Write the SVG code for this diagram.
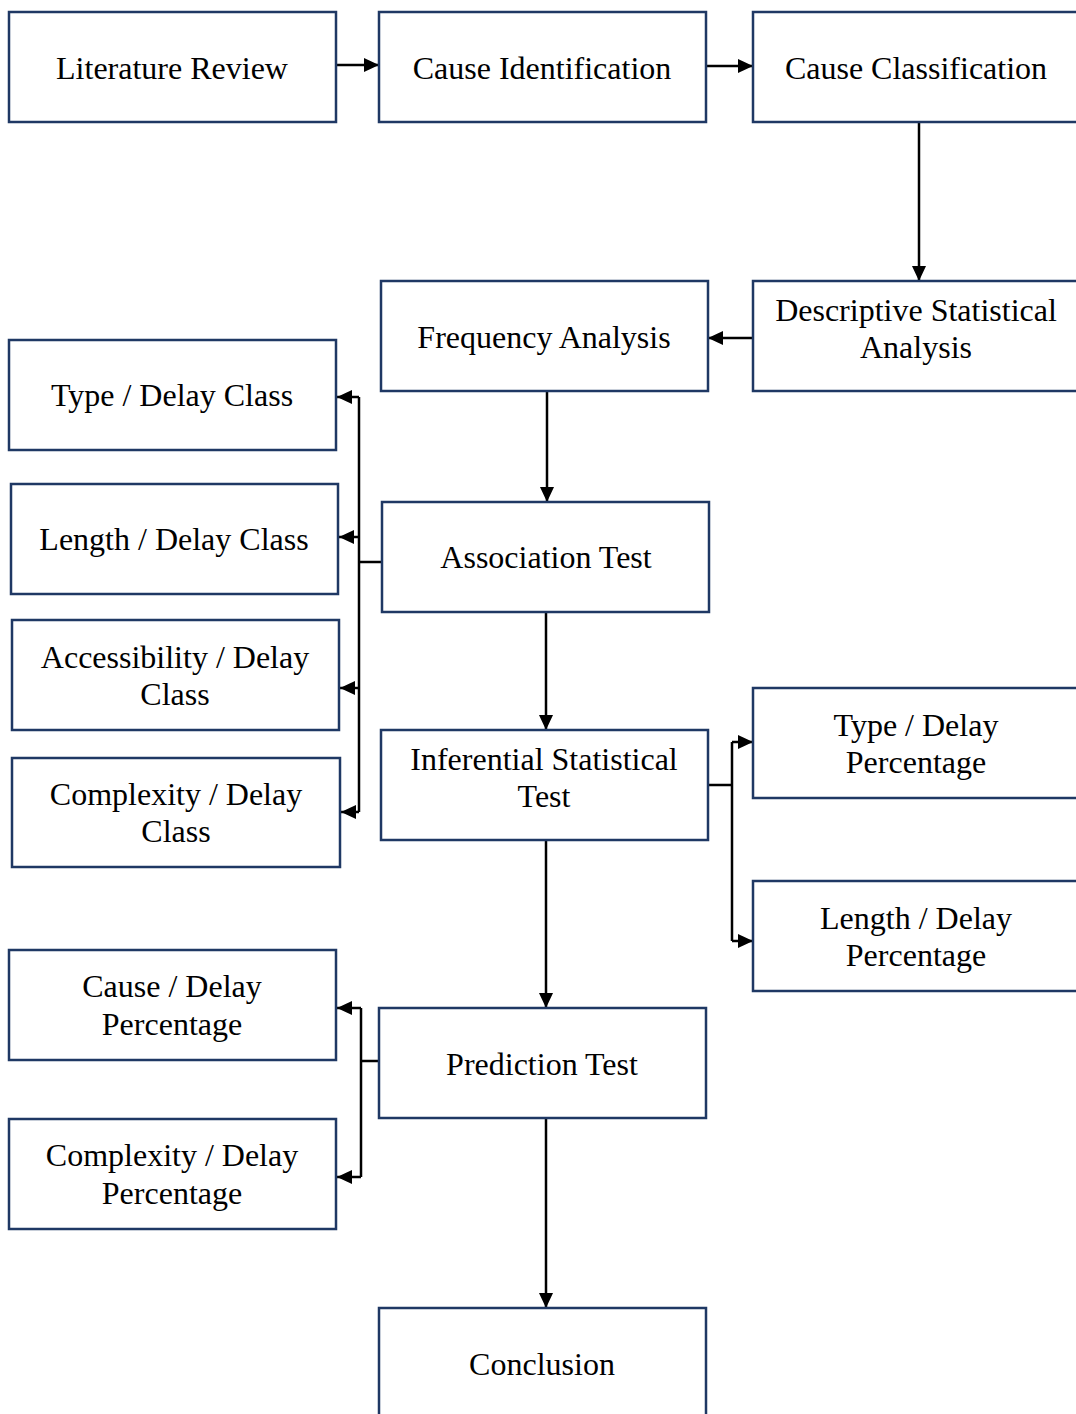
<svg xmlns="http://www.w3.org/2000/svg" width="1076" height="1414" viewBox="0 0 1076 1414">
<style>
.box{fill:#fff;stroke:#1f3864;stroke-width:2.5}
.t{font-family:"Liberation Serif","Times New Roman",serif;font-size:32px;fill:#000;text-anchor:middle}
.c{fill:none;stroke:#000;stroke-width:2.5}
</style>
<defs>
<marker id="ah" markerUnits="userSpaceOnUse" markerWidth="15" markerHeight="14" refX="15" refY="7" orient="auto">
<path d="M0,0 L15,7 L0,14 z" fill="#000"/>
</marker>
</defs>
<rect width="1076" height="1414" fill="#fff"/>
<g id="connectors">
<path class="c" d="M336,65 H379" marker-end="url(#ah)"/>
<path class="c" d="M706,66 H753" marker-end="url(#ah)"/>
<path class="c" d="M919,122 V281" marker-end="url(#ah)"/>
<path class="c" d="M753,338 H708" marker-end="url(#ah)"/>
<path class="c" d="M547,391 V502" marker-end="url(#ah)"/>
<path class="c" d="M546,612 V730" marker-end="url(#ah)"/>
<path class="c" d="M546,840 V1008" marker-end="url(#ah)"/>
<path class="c" d="M546,1118 V1308" marker-end="url(#ah)"/>
<path class="c" d="M382,562 H359 M359,397 V812"/>
<path class="c" d="M359,397 H337" marker-end="url(#ah)"/>
<path class="c" d="M359,537 H339" marker-end="url(#ah)"/>
<path class="c" d="M359,688 H340" marker-end="url(#ah)"/>
<path class="c" d="M359,812 H341" marker-end="url(#ah)"/>
<path class="c" d="M708,785 H732 M732,742 V941"/>
<path class="c" d="M732,742 H753" marker-end="url(#ah)"/>
<path class="c" d="M732,941 H753" marker-end="url(#ah)"/>
<path class="c" d="M384,1061 H361 M361,1008 V1177"/>
<path class="c" d="M361,1008 H337" marker-end="url(#ah)"/>
<path class="c" d="M361,1177 H337" marker-end="url(#ah)"/>
</g>
<g id="literature-review"><rect class="box" x="9" y="12" width="327" height="110"/><text class="t" x="172" y="79">Literature Review</text></g>
<g id="cause-identification"><rect class="box" x="379" y="12" width="327" height="110"/><text class="t" x="542" y="79">Cause Identification</text></g>
<g id="cause-classification"><rect class="box" x="753" y="12" width="330" height="110"/><text class="t" x="916" y="79">Cause Classification</text></g>
<g id="descriptive-statistical-analysis"><rect class="box" x="753" y="281" width="330" height="110"/><text class="t" x="916" y="321">Descriptive Statistical</text><text class="t" x="916" y="358">Analysis</text></g>
<g id="frequency-analysis"><rect class="box" x="381" y="281" width="327" height="110"/><text class="t" x="544" y="348">Frequency Analysis</text></g>
<g id="type-delay-class"><rect class="box" x="9" y="340" width="327" height="110"/><text class="t" x="172" y="406">Type / Delay Class</text></g>
<g id="length-delay-class"><rect class="box" x="11" y="484" width="327" height="110"/><text class="t" x="174" y="550">Length / Delay Class</text></g>
<g id="association-test"><rect class="box" x="382" y="502" width="327" height="110"/><text class="t" x="546" y="568">Association Test</text></g>
<g id="accessibility-delay-class"><rect class="box" x="12" y="620" width="327" height="110"/><text class="t" x="175" y="668">Accessibility / Delay</text><text class="t" x="175" y="705">Class</text></g>
<g id="complexity-delay-class"><rect class="box" x="12" y="758" width="328" height="109"/><text class="t" x="176" y="805">Complexity / Delay</text><text class="t" x="176" y="842">Class</text></g>
<g id="inferential-statistical-test"><rect class="box" x="381" y="730" width="327" height="110"/><text class="t" x="544" y="770">Inferential Statistical</text><text class="t" x="544" y="807">Test</text></g>
<g id="type-delay-percentage"><rect class="box" x="753" y="688" width="330" height="110"/><text class="t" x="916" y="736">Type / Delay</text><text class="t" x="916" y="773">Percentage</text></g>
<g id="length-delay-percentage"><rect class="box" x="753" y="881" width="330" height="110"/><text class="t" x="916" y="929">Length / Delay</text><text class="t" x="916" y="966">Percentage</text></g>
<g id="cause-delay-percentage"><rect class="box" x="9" y="950" width="327" height="110"/><text class="t" x="172" y="997">Cause / Delay</text><text class="t" x="172" y="1035">Percentage</text></g>
<g id="prediction-test"><rect class="box" x="379" y="1008" width="327" height="110"/><text class="t" x="542" y="1075">Prediction Test</text></g>
<g id="complexity-delay-percentage"><rect class="box" x="9" y="1119" width="327" height="110"/><text class="t" x="172" y="1166">Complexity / Delay</text><text class="t" x="172" y="1204">Percentage</text></g>
<g id="conclusion"><rect class="box" x="379" y="1308" width="327" height="112"/><text class="t" x="542" y="1375">Conclusion</text></g>
</svg>
